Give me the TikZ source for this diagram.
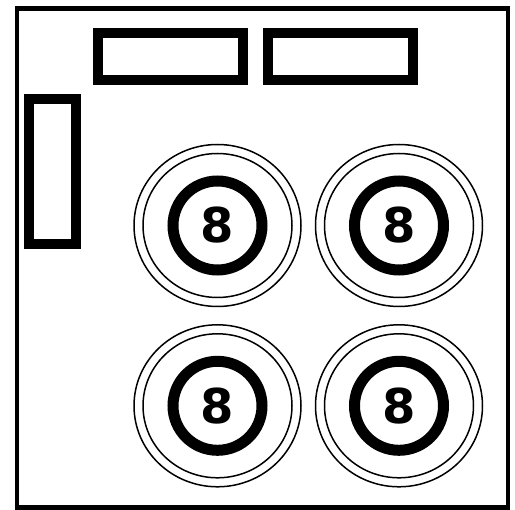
\documentclass[tikz,border=0pt]{standalone}
\usepackage{fontspec}
\newfontfamily\digitfont{DejaVu Sans}
\usetikzlibrary{positioning, calc}

\begin{document}
\begin{tikzpicture}[
  x=1pt, y=-1pt,
  frame/.style={draw, line width=4.5pt},
  panel/.style={draw, line width=10pt, inner sep=0pt},
  ring/.style={circle, draw, line width=11pt, minimum size=89pt, inner sep=0pt,
               font=\digitfont\bfseries\fontsize{48}{48}\selectfont},
  rim/.style={draw, line width=1.5pt}
]
  \useasboundingbox (0,0) rectangle (515,510);
  % Rahmen
  \draw[frame] (17,8.5) rectangle (508.2,507.3);
  % --- Felder oben und links ---
  \node[panel, minimum width=145pt, minimum height=47.2pt] (topA) at (170.5,56.9) {};
  \node[panel, minimum width=145.6pt, minimum height=47.2pt] (topB) at (340.5,56.9) {};
  \node[panel, minimum width=47pt, minimum height=144.7pt] (side) at (52.5,171.7) {};
  % --- Linsen ---
  \node[ring] (lensA) at (217.5,225.5) {8};
  \node[ring] (lensB) at (399,225.5) {8};
  \node[ring] (lensC) at (217.5,405.8) {8};
  \node[ring] (lensD) at (399,405.8) {8};
  % doppelte Ränder
  \draw[rim] (lensA.center) ellipse [x radius=83.5pt, y radius=81pt];
  \draw[rim] (lensA.center) ellipse [x radius=74.5pt, y radius=72pt];
  \draw[rim] (lensB.center) ellipse [x radius=83.5pt, y radius=81pt];
  \draw[rim] (lensB.center) ellipse [x radius=74.5pt, y radius=72pt];
  \draw[rim] (lensC.center) ellipse [x radius=83.5pt, y radius=81pt];
  \draw[rim] (lensC.center) ellipse [x radius=74.5pt, y radius=72pt];
  \draw[rim] (lensD.center) ellipse [x radius=83.5pt, y radius=81pt];
  \draw[rim] (lensD.center) ellipse [x radius=74.5pt, y radius=72pt];
\end{tikzpicture}
\end{document}
